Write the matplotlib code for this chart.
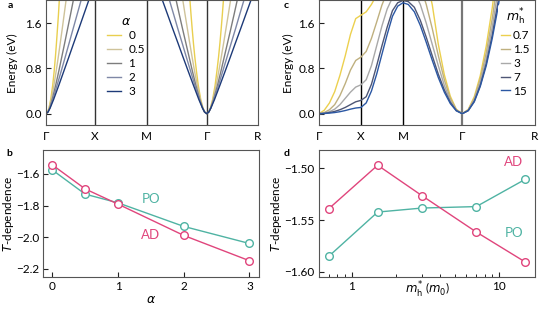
import numpy as np
import matplotlib.pyplot as plt
from matplotlib.ticker import FixedLocator, LogLocator, NullFormatter

plt.rcParams['font.family'] = ['Lato', 'DejaVu Sans']
plt.rcParams['mathtext.fontset'] = 'dejavusans'
plt.rcParams['axes.unicode_minus'] = True

# ----- Panel a: bandas con distinto alfa -----
alphas = ["0", "0.5", "1", "2", "3"]
colores_a = ["#e9cf4f", "#cfc39a", "#7d7d7d", "#7f88a6", "#1d3a78"]
puntos_a = [0.0, 0.595, 1.222, 1.950, 2.573]   # Γ X M Γ R
etiquetas_k = ["Γ", "X", "M", "Γ", "R"]
e_a = [0, .03, .1, .25, .5, .75, 1.0, 1.25, 1.5, 1.75, 2.0]
# distancia desde Γ (izquierda, direccion Γ-X)
k_gx_a = [
    [0, .020, .036, .057, .081, .099, .114, .127, .139, .151, .161],
    [0, .021, .039, .064, .096, .123, .149, .173, .197, .220, .243],
    [0, .024, .045, .075, .117, .155, .191, .227, .262, .297, .331],
    [0, .024, .047, .082, .134, .184, .233, .281, .329, .377, .425],
    [0, .025, .050, .092, .155, .216, .277, .337, .398, .458, .518],
]
# distancia desde el Γ central
k_gm_a = [
    [0, .025, .045, .072, .102, .124, .144, .161, .176, .190, .203],
    [0, .025, .047, .077, .114, .147, .177, .206, .234, .262, .289],
    [0, .027, .050, .084, .131, .173, .213, .253, .293, .332, .370],
    [0, .025, .050, .087, .143, .195, .247, .298, .350, .400, .451],
    [0, .026, .051, .095, .160, .224, .287, .349, .412, .474, .536],
]

# ----- Panel c: bandas con distinta masa de huecos -----
masas = ["0.7", "1.5", "3", "7", "15"]
colores_c = ["#ecd04e", "#bfb07f", "#a9a9a9", "#4e5675", "#2b57a3"]
puntos_c = [0.0, 0.5, 1.0, 1.707, 2.573]
k_seg = [0, .0625, .125, .1875, .25, .3125, .375, .4375, .5]
e_gx = [
    [0, .06, .19, .39, .68, 1.02, 1.40, 1.68, 1.74],
    [0, .02, .07, .16, .32, .53, .77, .94, 1.0],
    [0, .01, .035, .08, .16, .27, .38, .47, .51],
    [0, .005, .02, .04, .07, .11, .16, .21, .235],
    [0, .003, .01, .02, .035, .055, .08, .10, .11],
]
e_xm = [
    [1.74, 1.80, 1.93, 2.10, 2.30, 2.45, 2.55, 2.60, 2.62],
    [1.0, 1.10, 1.33, 1.62, 1.92, 2.15, 2.30, 2.40, 2.45],
    [.51, .60, .85, 1.20, 1.55, 1.85, 2.05, 2.20, 2.25],
    [.235, .30, .52, .85, 1.20, 1.53, 1.82, 1.96, 2.0],
    [.11, .19, .40, .70, 1.05, 1.40, 1.72, 1.90, 1.96],
]
d_mg = [0, .071, .143, .214, .286, .357, .429, .5, .571, .643, .707]
e_mg = [
    [0, .077, .31, .69, 1.23, 1.92, 2.40, 2.55, 2.60, 2.62, 2.62],
    [0, .07, .27, .60, 1.03, 1.50, 1.93, 2.25, 2.40, 2.45, 2.45],
    [0, .06, .23, .50, .85, 1.22, 1.60, 1.93, 2.15, 2.23, 2.25],
    [0, .055, .20, .42, .70, 1.02, 1.35, 1.65, 1.88, 1.98, 2.0],
    [0, .05, .18, .38, .64, .94, 1.26, 1.56, 1.80, 1.93, 1.96],
]
d_gr = [0, .071, .143, .214, .286, .357, .429, .5]
e_gr = [
    [0, .075, .30, .67, 1.20, 1.87, 2.70, 3.0],
    [0, .067, .27, .61, 1.08, 1.68, 2.42, 3.0],
    [0, .061, .245, .55, .98, 1.53, 2.20, 3.0],
    [0, .055, .22, .50, .89, 1.39, 2.00, 2.72],
    [0, .053, .21, .48, .85, 1.33, 1.90, 2.60],
]

# ----- Panel b y d: dependencia con T -----
alpha_b = [0, 0.5, 1, 2, 3]
ad_b = [-1.543, -1.695, -1.791, -1.989, -2.149]
po_b = [-1.575, -1.728, -1.783, -1.932, -2.040]
mh_d = [0.7, 1.5, 3, 7, 15]
ad_d = [-1.539, -1.497, -1.5265, -1.5616, -1.5905]
po_d = [-1.585, -1.5423, -1.5384, -1.537, -1.5107]

rosa = "#e0457c"
verde = "#4fb3a3"
gris_eje = "#555555"
fs = 8.5

fig = plt.figure(figsize=(5.4, 3.09), dpi=100)
ax_a = fig.add_axes([0.0852, 0.5955, 0.3926, 0.4029])
ax_c = fig.add_axes([0.5907, 0.5955, 0.4, 0.4029])
ax_b = fig.add_axes([0.0802, 0.1045, 0.4, 0.41])
ax_d = fig.add_axes([0.5907, 0.1045, 0.4, 0.41])


def estilo(ax):
    for s in ax.spines.values():
        s.set_color(gris_eje)
        s.set_linewidth(0.8)
    ax.tick_params(direction='in', length=3.5, width=0.8, color='#222222',
                   labelsize=fs, pad=3)


def ylab(ax, texto, x):
    ax.set_ylabel(texto, fontsize=fs)
    ax.yaxis.set_label_coords(x, 0.5)
    ax.yaxis.label.set_va('center')


def xlab(ax, texto, y, size):
    ax.set_xlabel(texto, fontsize=size)
    ax.xaxis.set_label_coords(0.5, y)
    ax.xaxis.label.set_va('center')


# --- a ---
for i in range(len(alphas)):
    e = np.array(e_a)
    k1 = np.array(k_gx_a[i])
    k2 = np.array(k_gm_a[i])
    ax_a.plot(puntos_a[0] + k1, e, color=colores_a[i], lw=1.0)
    xs = np.concatenate([puntos_a[3] - k2[::-1], puntos_a[3] + k2[1:]])
    ys = np.concatenate([e[::-1], e[1:]])
    ax_a.plot(xs, ys, color=colores_a[i], lw=1.0, label=alphas[i])
for p in puntos_a[1:4]:
    ax_a.axvline(p, color='#333333', lw=1.0, zorder=1)
ax_a.set_xlim(puntos_a[0], puntos_a[-1])
ax_a.set_ylim(-0.2, 2.0)

# --- c ---
for i in range(len(masas)):
    ks = np.array(k_seg)
    xs = np.concatenate([puntos_c[0] + ks, puntos_c[1] + ks[1:],
                         puntos_c[3] - np.array(d_mg)[::-1][1:],
                         puntos_c[3] + np.array(d_gr)[1:]])
    ys = np.concatenate([e_gx[i], e_xm[i][1:], e_mg[i][::-1][1:], e_gr[i][1:]])
    ax_c.plot(xs, ys, color=colores_c[i], lw=1.0, label=masas[i])
ax_c.axvline(puntos_c[1], color='black', lw=1.0, zorder=1)
ax_c.axvline(puntos_c[2], color='black', lw=1.0, zorder=1)
ax_c.axvline(puntos_c[3], color='#777777', lw=1.6, zorder=1)
ax_c.set_xlim(puntos_c[0], puntos_c[-1])
ax_c.set_ylim(-0.2, 2.0)

for ax, pts in [(ax_a, puntos_a), (ax_c, puntos_c)]:
    estilo(ax)
    ax.set_xticks(pts)
    ax.set_xticklabels(etiquetas_k)
    ax.tick_params(axis='x', length=0, pad=4)
    ax.set_yticks([0.0, 0.8, 1.6])
    ax.set_yticklabels(["0.0", "0.8", "1.6"])
ylab(ax_a, "Energy (eV)", -0.156)
ylab(ax_c, "Energy (eV)", -0.142)

leg_a = ax_a.legend(title=r"$\alpha$", loc='upper left', bbox_to_anchor=(0.25, 0.95),
                    fontsize=fs, title_fontsize=9, frameon=False, handlelength=1.2,
                    handletextpad=0.6, labelspacing=0.25, borderpad=0.2)
leg_c = ax_c.legend(title=r"$m_{\rm h}^{*}$", loc='upper left', bbox_to_anchor=(0.83, 0.97),
                    fontsize=fs, title_fontsize=9, frameon=True, facecolor='white',
                    edgecolor='none', framealpha=1, handlelength=0.8,
                    handletextpad=0.25, labelspacing=0.25, borderpad=0.2, borderaxespad=0)

# --- b ---
ax_b.plot(alpha_b, po_b, color=verde, lw=1.0, marker='o', ms=5.5, mfc='white', mew=1.0)
ax_b.plot(alpha_b, ad_b, color=rosa, lw=1.0, marker='o', ms=5.5, mfc='white', mew=1.0)
ax_b.text(1.5, -1.76, "PO", color=verde, fontsize=9.5, ha='center', va='center')
ax_b.text(1.5, -1.985, "AD", color=rosa, fontsize=9.5, ha='center', va='center')
ax_b.set_xlim(-0.137, 3.15)
ax_b.set_ylim(-2.25, -1.449)
estilo(ax_b)
ax_b.set_xticks([0, 1, 2, 3])
ax_b.set_yticks([-1.6, -1.8, -2.0, -2.2])
ax_b.set_yticklabels(["\u22121.6", "\u22121.8", "\u22122.0", "\u22122.2"])
xlab(ax_b, r"$\alpha$", -0.176, 9)
ylab(ax_b, r"$T$-dependence", -0.163)

# --- d ---
ax_d.plot(mh_d, po_d, color=verde, lw=1.0, marker='o', ms=5.5, mfc='white', mew=1.0)
ax_d.plot(mh_d, ad_d, color=rosa, lw=1.0, marker='o', ms=5.5, mfc='white', mew=1.0)
ax_d.set_xscale('log')
ax_d.text(12.6, -1.494, "AD", color=rosa, fontsize=9.5, ha='center', va='center')
ax_d.text(12.6, -1.563, "PO", color=verde, fontsize=9.5, ha='center', va='center')
ax_d.set_xlim(0.60, 17.5)
ax_d.set_ylim(-1.6048, -1.4823)
estilo(ax_d)
ax_d.xaxis.set_major_locator(FixedLocator([1, 10]))
ax_d.set_xticklabels(["1", "10"])
ax_d.xaxis.set_minor_locator(LogLocator(base=10, subs=np.arange(2, 10)))
ax_d.xaxis.set_minor_formatter(NullFormatter())
ax_d.tick_params(axis='x', which='minor', direction='in', length=2, width=0.6)
ax_d.set_yticks([-1.50, -1.55, -1.60])
ax_d.set_yticklabels(["\u22121.50", "\u22121.55", "\u22121.60"])
xlab(ax_d, r"$m_{\rm h}^{*}$ ($m_0$)", -0.105, fs)
ylab(ax_d, r"$T$-dependence", -0.196)

# letras de panel
for letra, x, y in [("a", 10, 5), ("b", 9, 153), ("c", 286, 5), ("d", 287, 153)]:
    fig.text(x / 540, 1 - y / 309, letra, fontsize=7.5, fontweight='bold',
             ha='center', va='center')

fig.savefig("out.png", dpi=100)
